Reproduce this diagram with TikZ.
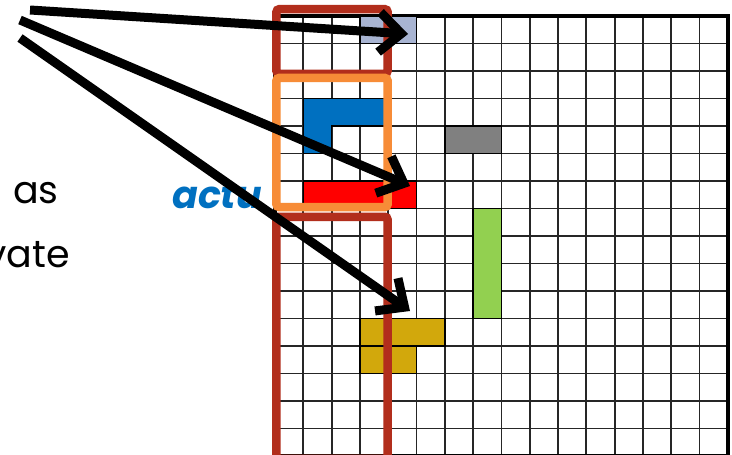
\documentclass[tikz,border=0pt]{standalone}
\usepackage{fontspec}
\setmainfont{Poppins}
\usepackage{xcolor}
\usetikzlibrary{arrows.meta}

\definecolor{slideblue}{RGB}{0,112,192}
\definecolor{paleblue}{RGB}{168,180,210}
\definecolor{limegreen}{RGB}{146,208,80}
\definecolor{mustard}{RGB}{210,168,12}
\definecolor{brickred}{RGB}{178,46,28}
\definecolor{lightorange}{RGB}{247,140,55}

\begin{document}
\begin{tikzpicture}[x=1pt, y=-1pt,
  gridline/.style={draw=black!85, line width=1.8pt},
  block/.style={draw=black, line width=1.6pt},
  frame/.style={line width=8.5pt, rounded corners=3pt},
  arr/.style={line width=9pt, -{Straight Barb[length=22pt, width=40pt]},
              preaction={draw=black, opacity=0.2,
                         transform canvas={shift={(2pt,-2.5pt)}}}},
  lbl/.style={font=\fontsize{38}{40}\selectfont, inner sep=0pt}
]
\useasboundingbox (0,0) rectangle (732,455);

% text left of the grid
\node[lbl, anchor=base west] (as) at (13,203) {as};
\node[lbl, anchor=base east] (vate) at (70,267) {vate};
\node[lbl, anchor=base west, text=slideblue] (actu) at (172,208)
  {\bfseries\itshape actu};

% 16 x 16 grid of cells
\begin{scope}[shift={(275,16)}, x=28.3pt, y=-27.5pt]
  \fill[white] (0,0) rectangle (16,16);
  \foreach \i in {1,...,15} {
    \draw[gridline] (\i,0) -- (\i,16);
    \draw[gridline] (0,\i) -- (16,\i);
  }
  \draw[line width=4pt] (0,0) rectangle (16,16);

  \filldraw[block, fill=paleblue] (3,0) rectangle (5,1);
  \filldraw[block, fill=slideblue] (1,3) -- (4,3) -- (4,4) -- (2,4)
    -- (2,5) -- (1,5) -- cycle;
  \filldraw[block, fill=red] (1,6) rectangle (5,7);
  \filldraw[block, fill=gray] (6,4) rectangle (8,5);
  \filldraw[block, fill=limegreen] (7,7) rectangle (8,11);
  \filldraw[block, fill=mustard] (3,11) rectangle (6,12);
  \filldraw[block, fill=mustard] (3,12) rectangle (5,13);

  % the three column windows
  \draw[frame, brickred] (0.05,-0.25) rectangle (3.98,2.1);
  \draw[frame, lightorange] (0.05,2.25) rectangle (3.98,6.95);
  \draw[frame, brickred] (0.05,7.3) rectangle (3.98,16.1);
\end{scope}

% arrows
\coordinate (from1) at (30,10);
\coordinate (from2) at (20,20);
\coordinate (from3) at (20,38);
\coordinate (to1) at (408,34);
\coordinate (to2) at (410,186);
\coordinate (to3) at (410,311);
\draw[arr] (from1) -- (to1);
\draw[arr] (from2) -- (to2);
\draw[arr] (from3) -- (to3);
\end{tikzpicture}
\end{document}
